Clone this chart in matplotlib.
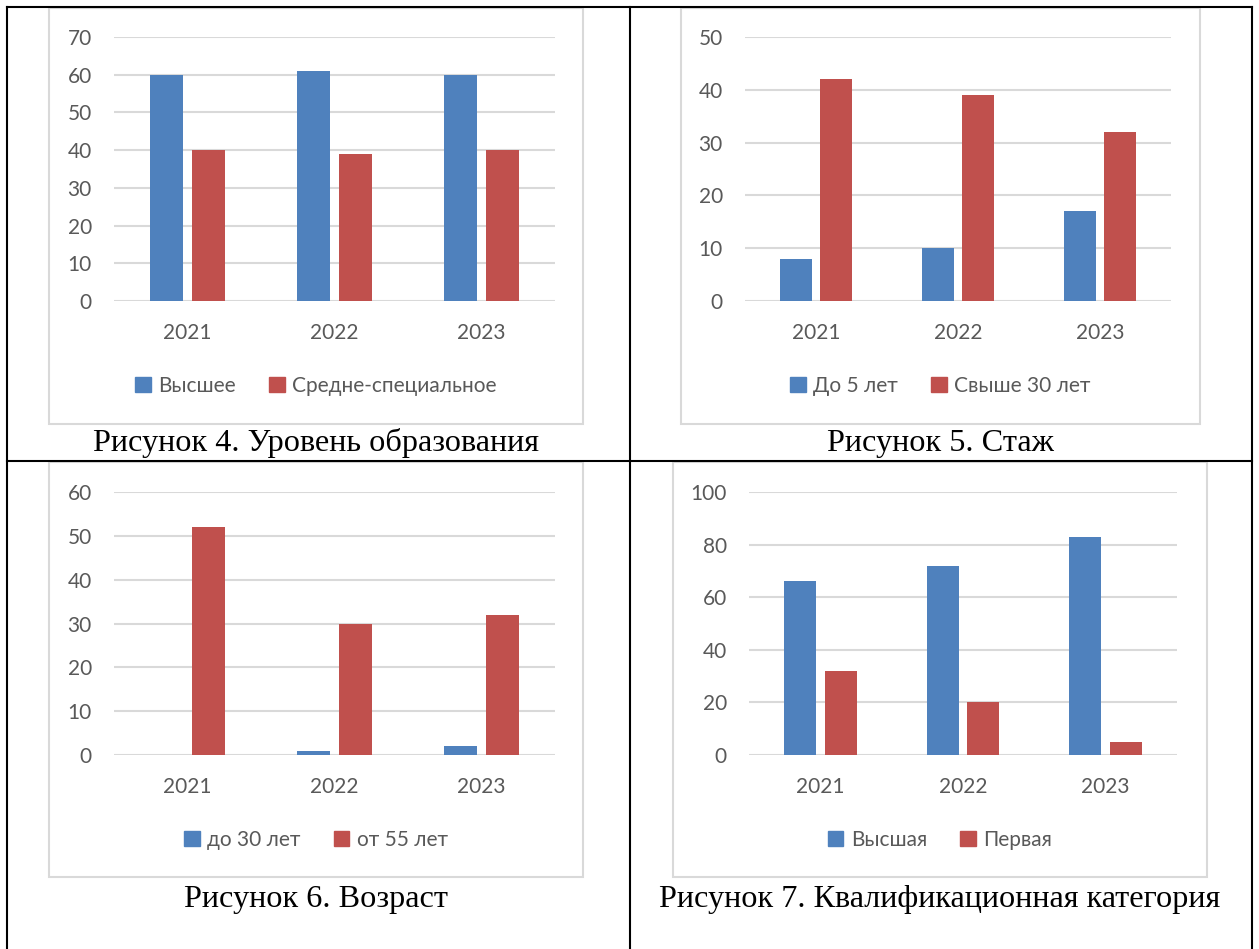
import numpy as np
import matplotlib
matplotlib.use('Agg')
import matplotlib.pyplot as plt
from matplotlib.patches import Rectangle, Patch
from matplotlib.lines import Line2D

years = ['2021', '2022', '2023']

# Рисунок 4
edu_labels = ['Высшее', 'Средне-специальное']
edu_high = [60, 61, 60]
edu_mid = [40, 39, 40]
# Рисунок 5
exp_labels = ['До 5 лет', 'Свыше 30 лет']
exp_low = [8, 10, 17]
exp_high = [42, 39, 32]
# Рисунок 6
age_labels = ['до 30 лет', 'от 55 лет']
age_young = [0, 1, 2]
age_old = [52, 30, 32]
# Рисунок 7
cat_labels = ['Высшая', 'Первая']
cat_top = [66, 72, 83]
cat_first = [32, 20, 5]

captions = ['Рисунок 4. Уровень образования', 'Рисунок 5. Стаж',
            'Рисунок 6. Возраст', 'Рисунок 7. Квалификационная категория']

BLUE, RED = '#4F81BD', '#C0504D'
GRID, TXT = '#D9D9D9', '#595959'
W, H = 1259, 949
FONT = 'Lato'

fig = plt.figure(figsize=(W/100, H/100), dpi=100)

def fx(x): return x / W
def fy(y): return 1 - y / H

def panel(box, ax_x, ax_y, ymax, step, s1, s2, labels, cap, cap_y, leg_y):
    # light chart frame
    x0, y0, x1, y1 = box
    fig.add_artist(Rectangle((fx(x0), fy(y1)), fx(x1-x0), (y1-y0)/H,
                             transform=fig.transFigure, fill=False,
                             edgecolor=GRID, lw=1.5))
    ax = fig.add_axes([fx(ax_x[0]), fy(ax_y[0]), fx(ax_x[1]-ax_x[0]), (ax_y[0]-ax_y[1])/H])
    x = np.arange(len(years))
    w = 0.225; off = w/2 + 0.27*w/2
    ax.bar(x - off, s1, w, color=BLUE, zorder=3)
    ax.bar(x + off, s2, w, color=RED, zorder=3)
    ax.set_xlim(-0.5, 2.5); ax.set_ylim(0, ymax)
    ax.set_yticks(np.arange(0, ymax + 1, step))
    ax.set_xticks(x, years)
    ax.yaxis.grid(True, color=GRID, lw=1.5, zorder=0)
    ax.set_axisbelow(True)
    for s in ax.spines.values(): s.set_visible(False)
    ax.tick_params(length=0, labelsize=15, labelcolor=TXT)
    ax.tick_params(axis='y', pad=16)
    ax.tick_params(axis='x', pad=16)
    for t in ax.get_xticklabels() + ax.get_yticklabels():
        t.set_fontfamily(FONT)
    handles = [Patch(color=BLUE), Patch(color=RED)]
    cx = (x0 + x1) / 2
    fig.legend(handles, labels, loc='center', bbox_to_anchor=(fx(cx), fy(leg_y)),
               ncol=2, frameon=False, handlelength=0.75, handleheight=0.75,
               handletextpad=0.35, columnspacing=1.6,
               prop={'family': FONT, 'size': 15}, labelcolor=TXT)
    fig.text(fx(cx), fy(cap_y), cap, ha='center', va='center',
             family='Liberation Serif', fontsize=23.2, color='black')

panel((49, 8, 583, 424), (114, 555), (301, 37), 70, 10, edu_high, edu_mid,
      edu_labels, captions[0], 443, 386)
panel((681, 8, 1200, 424), (745, 1171), (301, 37), 50, 10, exp_low, exp_high,
      exp_labels, captions[1], 443, 386)
panel((49, 462, 583, 877), (114, 555), (755, 492), 60, 10, age_young, age_old,
      age_labels, captions[2], 900, 840)
panel((673, 462, 1207, 877), (749, 1177), (755, 492), 100, 20, cat_top, cat_first,
      cat_labels, captions[3], 900, 840)

# table borders
for (xa, ya, xb, yb) in [(7, 7, 1252, 7), (7, 461, 1252, 461),
                         (7, 7, 7, 949), (630, 7, 630, 949), (1252, 7, 1252, 949)]:
    fig.add_artist(Line2D([fx(xa), fx(xb)], [fy(ya), fy(yb)],
                          transform=fig.transFigure, color='black', lw=1.5))

fig.savefig('out.png', dpi=100)
